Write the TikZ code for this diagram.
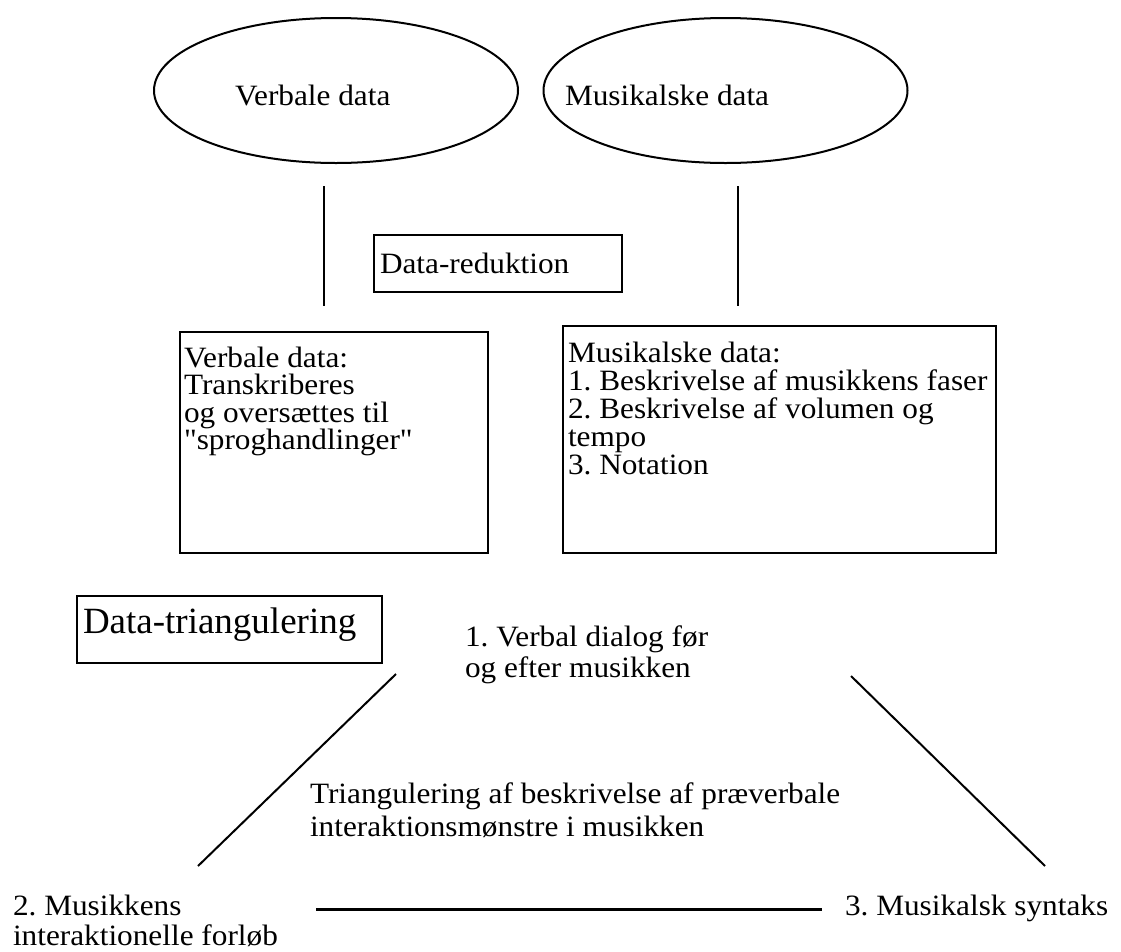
\documentclass[tikz,border=0pt]{standalone}
\usepackage{fontspec}
\setmainfont{Liberation Serif}[Ligatures=TeXOff, FakeStretch=1.06]
\newfontfamily\plainserif{Liberation Serif}[Ligatures=TeXOff]
\usetikzlibrary{shapes.geometric}
\frenchspacing
\begin{document}
\begin{tikzpicture}[x=1pt,y=-1pt,
  every node/.style={inner sep=0pt, outer sep=0pt},
  lbl/.style={font=\fontsize{29.5}{28}\selectfont, anchor=base west},
  ml/.style={align=left, anchor=north west},
  oval/.style={draw, ellipse, line width=2pt, minimum width=364pt, minimum height=145pt},
  frame/.style={draw, line width=2.5pt},
  conn/.style={line width=2pt}]
\useasboundingbox (0,0) rectangle (1121,951);

% ellipses
\node[oval] (vdE) at (336,90.5) {};
\node[oval] (mdE) at (725.5,90.5) {};
\node[lbl] (vdT) at (235,105) {Verbale data};
\node[lbl] (mdT) at (565,105) {Musikalske data};

% vertical lines
\coordinate (l1a) at (324,186);
\coordinate (l1b) at (324,306);
\coordinate (l2a) at (738,186);
\coordinate (l2b) at (738,306);
\draw[conn] (l1a) -- (l1b);
\draw[conn] (l2a) -- (l2b);

% Data-reduktion
\node[frame, minimum width=248pt, minimum height=57pt] (drB) at (498,263.5) {};
\node[lbl] (drT) at (380,273) {Data-reduktion};

% left box
\node[frame, minimum width=308pt, minimum height=221pt] (vbB) at (334,442.5) {};
\node[ml, font=\fontsize{29.5}{27.5}\selectfont] (vbT) at (184,346.9)
  {Verbale data:\\Transkriberes\\og oversættes til\\"sproghandlinger"};

% right box
\node[frame, minimum width=433pt, minimum height=227pt] (mbB) at (779.5,439.5) {};
\node[ml, font=\fontsize{29.5}{28}\selectfont] (mbT) at (568,341.9)
  {Musikalske data:\\1. Beskrivelse af musikkens faser\\2. Beskrivelse af volumen og\\tempo\\3. Notation};

% Data-triangulering
\node[frame, minimum width=305pt, minimum height=67pt] (dtB) at (229.5,629.5) {};
\node[anchor=base west, font=\plainserif\fontsize{37}{40}\selectfont] (dtT) at (83,633) {Data-triangulering};

% triangle
\node[ml, font=\fontsize{29.5}{31}\selectfont] (v1) at (465,625.9)
  {1. Verbal dialog før\\og efter musikken};
\node[ml, font=\fontsize{29.5}{33}\selectfont] (mid) at (310,782.9)
  {Triangulering af beskrivelse af præverbale\\interaktionsmønstre i musikken};
\node[ml, font=\fontsize{29.5}{30}\selectfont] (v2) at (13,894.9)
  {2. Musikkens\\interaktionelle forløb};
\node[lbl] (v3) at (845,915) {3. Musikalsk syntaks};

\coordinate (d1a) at (396,674);
\coordinate (d1b) at (198,866);
\coordinate (d2a) at (851,676);
\coordinate (d2b) at (1045,866);
\coordinate (h1) at (316,909);
\coordinate (h2) at (822,909);
\draw[conn] (d1a) -- (d1b);
\draw[conn] (d2a) -- (d2b);
\draw[conn, line width=3pt] (h1) -- (h2);
\end{tikzpicture}
\end{document}
